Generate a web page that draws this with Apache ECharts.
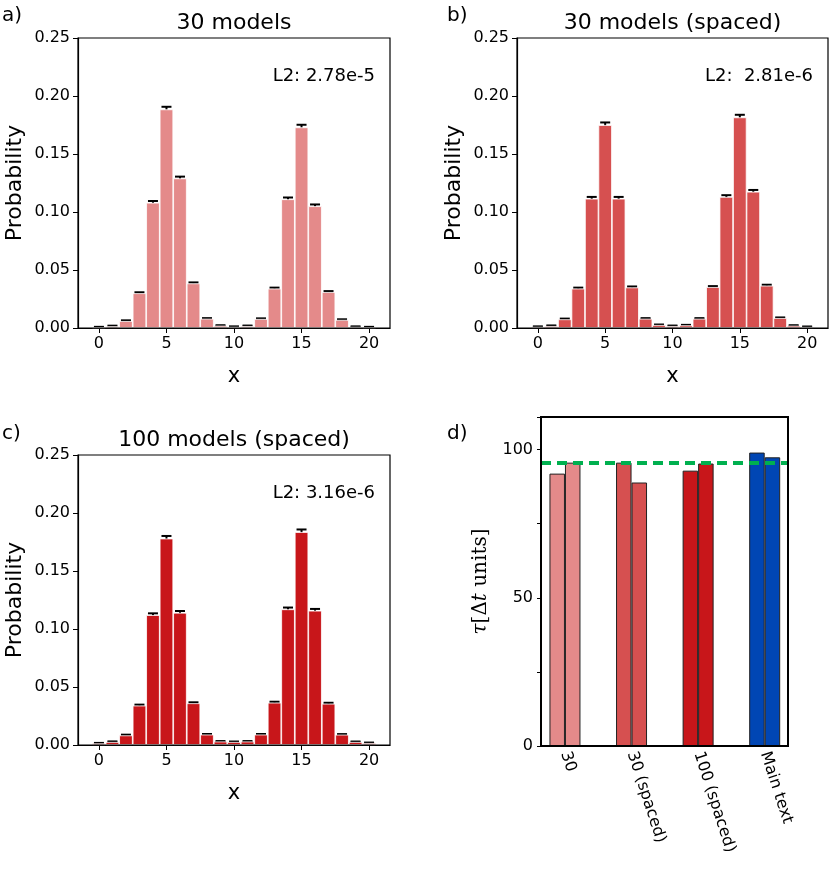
<!DOCTYPE html>
<html><head><meta charset="utf-8">
<script src="https://cdn.jsdelivr.net/npm/echarts@6/dist/echarts.min.js"></script>
<style>html,body{margin:0;padding:0;background:#fff}#c{width:830px;height:874px}</style>
</head><body><div id="c"></div>
<script>
const xs = [0,1,2,3,4,5,6,7,8,9,10,11,12,13,14,15,16,17,18,19,20];
const probA = [0.0006,0.0015,0.006,0.030,0.108,0.1885,0.129,0.0385,0.008,0.002,0.001,0.0017,0.0078,0.034,0.111,0.173,0.105,0.031,0.007,0.001,0.0006];
const probB = [0.001,0.0017,0.0075,0.034,0.1115,0.175,0.1115,0.035,0.008,0.0026,0.0017,0.0023,0.008,0.0353,0.113,0.1816,0.1175,0.0365,0.0086,0.002,0.0009];
const probC = [0.0014,0.0026,0.0083,0.034,0.112,0.178,0.114,0.036,0.009,0.003,0.0026,0.003,0.009,0.0365,0.117,0.1836,0.1158,0.0356,0.0089,0.0026,0.0017];
const errA = [0.0004,0.0005,0.0006,0.0008,0.0015,0.0022,0.0015,0.0008,0.0005,0.0004,0.0004,0.0004,0.0005,0.0008,0.0015,0.0022,0.0015,0.0008,0.0005,0.0004,0.0004];
const errB = errA;
const errC = errA;
const xTicks = [0,5,10,15,20];
const yTicks = [0,0.05,0.10,0.15,0.20,0.25];
const tauCats = ['30','30 (spaced)','100 (spaced)','Main text'];
const tauFirst = [91.9,95.6,92.9,99.0];
const tauSecond = [95.6,88.9,95.3,97.4];
const tauColors = ['#E48A8A','#D65050','#C8161A','#0046B4'];
const tauRef = 95.6;
const titles = ['30 models','30 models (spaced)','100 models (spaced)'];
const l2 = ['L2: 2.78e-5','L2:  2.81e-6','L2: 3.16e-6'];
const colors = ['#E48A8A','#D65050','#C8161A'];

const grids = [
  {left:78,top:38,width:312,height:290},
  {left:517,top:38,width:311,height:290},
  {left:78,top:455,width:312,height:290},
  {left:541,top:417,width:247,height:329}
];
const F = 'DejaVu Sans';
const xAxis=[], yAxis=[], series=[];
const probs=[probA,probB,probC], errs=[errA,errB,errC];
for(let i=0;i<3;i++){
  xAxis.push({gridIndex:i,type:'value',min:-1.55,max:21.55,splitLine:{show:false},
    axisLine:{onZero:false,lineStyle:{color:'#000',width:1.2}},
    axisTick:{show:true,length:5,customValues:xTicks,lineStyle:{color:'#000'}},
    axisLabel:{customValues:xTicks,color:'#000',fontSize:16,fontFamily:F,margin:8},
    name:'x',nameLocation:'middle',nameGap:38,nameTextStyle:{fontSize:21,fontFamily:F,color:'#000'}});
  yAxis.push({gridIndex:i,type:'value',min:0,max:0.25,interval:0.05,splitLine:{show:false},
    axisLine:{show:true,onZero:false,lineStyle:{color:'#000',width:1.2}},
    axisTick:{show:true,length:5,lineStyle:{color:'#000'}},
    axisLabel:{color:'#000',fontSize:16,fontFamily:F,formatter:v=>v.toFixed(2)},
    name:'Probability',nameLocation:'middle',nameGap:52,nameTextStyle:{fontSize:22,fontFamily:F,color:'#000'}});
  series.push({type:'bar',xAxisIndex:i,yAxisIndex:i,barWidth:13.6,
    itemStyle:{color:colors[i],borderColor:'#fff',borderWidth:0.8},
    data:xs.map((x,k)=>[x,probs[i][k]]),silent:true});
  const p=probs[i], e=errs[i];
  series.push({type:'custom',xAxisIndex:i,yAxisIndex:i,silent:true,
    data:xs.map((x,k)=>[x,p[k]-e[k],p[k]+e[k]]),
    renderItem:(params,api)=>{
      const lo=api.coord([api.value(0),api.value(1)]), hi=api.coord([api.value(0),api.value(2)]);
      const s={stroke:'#000',lineWidth:2};
      return {type:'group',children:[
        {type:'line',shape:{x1:lo[0],y1:lo[1],x2:hi[0],y2:hi[1]},style:s},
        {type:'line',shape:{x1:lo[0]-5,y1:lo[1],x2:lo[0]+5,y2:lo[1]},style:s},
        {type:'line',shape:{x1:hi[0]-5,y1:hi[1],x2:hi[0]+5,y2:hi[1]},style:s}]};
    }});
}
// panel d
xAxis.push({gridIndex:3,type:'value',min:-0.36,max:3.35,splitLine:{show:false},
  axisLine:{onZero:false,lineStyle:{color:'#000',width:2}},
  axisTick:{show:false},
  axisLabel:{customValues:[0,1,2,3],formatter:v=>tauCats[Math.round(v)],rotate:-72,color:'#000',fontSize:16,fontFamily:F,margin:6}});
yAxis.push({gridIndex:3,type:'value',min:0,max:111,interval:25,splitLine:{show:false},
  axisLine:{show:true,onZero:false,lineStyle:{color:'#000',width:2}},
  axisTick:{show:true,length:4,lineStyle:{color:'#000'}},
  axisLabel:{color:'#000',fontSize:16,fontFamily:F,formatter:v=>(v%50===0?String(v):'')},
  name:'{i|τ}{u|[Δ}{i|t}{u| units]}',nameLocation:'middle',nameGap:50,
  nameTextStyle:{fontSize:20,color:'#000',rich:{i:{fontSize:20,fontFamily:'DejaVu Serif',fontStyle:'italic'},u:{fontSize:20,fontFamily:'DejaVu Serif'}}}});
series.push({type:'bar',xAxisIndex:3,yAxisIndex:3,barWidth:15.5,barGap:'0%',silent:true,
  data:tauFirst.map((v,k)=>({value:[k,v],itemStyle:{color:tauColors[k]}})),
  itemStyle:{borderColor:'#222',borderWidth:1},
  markLine:{symbol:'none',silent:true,label:{show:false},lineStyle:{color:'#00B04F',type:[10,6],width:4},data:[{yAxis:tauRef}]}});
series.push({type:'bar',xAxisIndex:3,yAxisIndex:3,barWidth:15.5,barGap:'0%',silent:true,
  data:tauSecond.map((v,k)=>({value:[k,v],itemStyle:{color:tauColors[k]}})),
  itemStyle:{borderColor:'#222',borderWidth:1}});

const graphic=[];
const panelLbl=[['a)',2,6],['b)',447,6],['c)',2,424],['d)',447,424]];
panelLbl.forEach(a=>graphic.push({type:'text',left:a[1],top:a[2],style:{text:a[0],fontSize:20,fontFamily:F,fill:'#000'}}));
for(let i=0;i<3;i++){
  const g=grids[i];
  graphic.push({type:'text',x:g.left+g.width/2,y:g.top-4,style:{text:titles[i],fontSize:22,fontFamily:F,fill:'#000',align:'center',verticalAlign:'bottom'}});
  graphic.push({type:'text',x:g.left+g.width-15,y:g.top+38,style:{text:l2[i],fontSize:18,fontFamily:F,fill:'#000',align:'right',verticalAlign:'middle'}});
  graphic.push({type:'rect',shape:{x:g.left,y:g.top,width:g.width,height:g.height},style:{fill:'none',stroke:'#000',lineWidth:1.2},z:10});
}
const gd=grids[3];
graphic.push({type:'rect',shape:{x:gd.left,y:gd.top,width:gd.width,height:gd.height},style:{fill:'none',stroke:'#000',lineWidth:2},z:10});

const chart=echarts.init(document.getElementById('c'),null,{renderer:'canvas'});
chart.setOption({animation:false,backgroundColor:'#fff',grid:grids,xAxis,yAxis,series,graphic});
</script></body></html>
